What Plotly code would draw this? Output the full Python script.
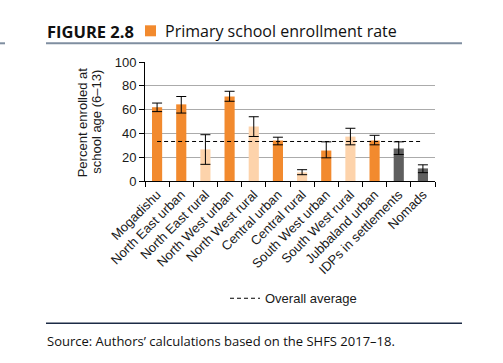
import plotly.graph_objects as go

categories = ["Mogadishu", "North East urban", "North East rural", "North West urban",
              "North West rural", "Central urban", "Central rural", "South West urban",
              "South West rural", "Jubbaland urban", "IDPs in settlements", "Nomads"]
values = [62, 64.4, 26.6, 71, 45.8, 34, 7.2, 25.6, 37.3, 34, 27.3, 10.6]
err_hi = [65.5, 71, 38.9, 75.4, 54, 36.8, 9.5, 32.9, 44.3, 38.4, 32.9, 13.6]
err_lo = [58.3, 57.1, 14, 67, 37.4, 30.4, 5.3, 19.5, 30.4, 30.4, 22.3, 7]
groups = ["urban", "urban", "rural", "urban", "rural", "urban", "rural", "urban",
          "rural", "urban", "other", "other"]
overall_average = 33.2
y_ticks = [0, 20, 40, 60, 80, 100]

color_map = {"urban": "#F28A2E", "rural": "#FDD3AB", "other": "#5F5F5F"}
colors = [color_map[g] for g in groups]

fig = go.Figure()
fig.add_trace(go.Bar(
    x=categories, y=values, marker=dict(color=colors, line=dict(width=0)),
    width=0.42, showlegend=False,
    error_y=dict(type="data", symmetric=False,
                 array=[h - v for h, v in zip(err_hi, values)],
                 arrayminus=[v - l for l, v in zip(err_lo, values)],
                 color="black", thickness=1, width=5),
))
fig.add_trace(go.Scatter(
    x=categories, y=[overall_average] * len(categories), mode="lines",
    line=dict(color="black", width=1, dash="4px,3px"),
    name="Overall average", showlegend=True,
))

# pixel -> paper helpers
L, R, T, B = 145, 435, 61.7, 180.7
def xp(px):
    return (px - L) / (R - L)
def yp(py):
    return (B - py) / (B - T)

AX_FONT = "Liberation Sans, Arial, sans-serif"
TITLE_FONT = "Open Sans"

fig.update_layout(
    width=503, height=363,
    margin=dict(l=L, r=503 - R, t=T, b=363 - B, pad=0),
    paper_bgcolor="white", plot_bgcolor="white",
    font=dict(family=AX_FONT, size=13, color="#1a1a1a"),
    xaxis=dict(showline=True, linecolor="black", linewidth=1, ticks="outside",
               tickson="boundaries", ticklen=5, tickcolor="black", tickangle=-45,
               tickfont=dict(size=13, color="#1a1a1a"), showgrid=False,
               range=[-0.5, len(categories) - 0.5]),
    yaxis=dict(range=[0, 100], tickvals=y_ticks, showline=True, linecolor="black",
               linewidth=1, ticks="outside", ticklen=5, tickcolor="black",
               showgrid=True, gridcolor="#ABABAB", gridwidth=1, zeroline=False,
               tickfont=dict(size=13, color="#1a1a1a")),
    legend=dict(orientation="h", x=xp(225), y=yp(298), xanchor="left", yanchor="middle",
                font=dict(size=13, color="#1a1a1a"), bgcolor="rgba(0,0,0,0)",
                itemwidth=30),
    shapes=[
        dict(type="line", xref="paper", yref="paper", x0=xp(46), x1=xp(462),
             y0=yp(43), y1=yp(43), line=dict(color="#7F8EA0", width=2)),
        dict(type="line", xref="paper", yref="paper", x0=xp(0), x1=xp(5),
             y0=yp(43), y1=yp(43), line=dict(color="#7F8EA0", width=2)),
        dict(type="rect", xref="paper", yref="paper", x0=xp(145), x1=xp(156),
             y0=yp(36), y1=yp(25), fillcolor="#F28A2E", line=dict(width=0)),
        dict(type="line", xref="paper", yref="paper", x0=xp(46), x1=xp(462),
             y0=yp(323), y1=yp(323), line=dict(color="#1C2B45", width=1.5)),
    ],
    annotations=[
        dict(text="<b>FIGURE 2.8</b>", xref="paper", yref="paper", x=xp(45), y=yp(31),
             xanchor="left", yanchor="middle", showarrow=False,
             font=dict(family=TITLE_FONT, size=16.5, color="#111111")),
        dict(text="Primary school enrollment rate", xref="paper", yref="paper",
             x=xp(163), y=yp(31), xanchor="left", yanchor="middle", showarrow=False,
             font=dict(family=TITLE_FONT, size=16, color="#111111")),
        dict(text="Percent enrolled at", xref="paper", yref="paper",
             x=xp(82), y=yp(122), xanchor="center", yanchor="middle", textangle=-90,
             showarrow=False, font=dict(size=13, color="#1a1a1a")),
        dict(text="school age (6–13)", xref="paper", yref="paper",
             x=xp(96.5), y=yp(122), xanchor="center", yanchor="middle", textangle=-90,
             showarrow=False, font=dict(size=13, color="#1a1a1a")),
        dict(text="Source: Authors’ calculations based on the SHFS 2017–18.", xref="paper",
             yref="paper", x=xp(45), y=yp(341), xanchor="left", yanchor="middle",
             showarrow=False, font=dict(family=TITLE_FONT, size=13, color="#111111")),
    ],
)

fig.write_html("out.html", config={"displayModeBar": False},
               post_script="document.body.style.margin='0';document.body.style.overflow='hidden';")
